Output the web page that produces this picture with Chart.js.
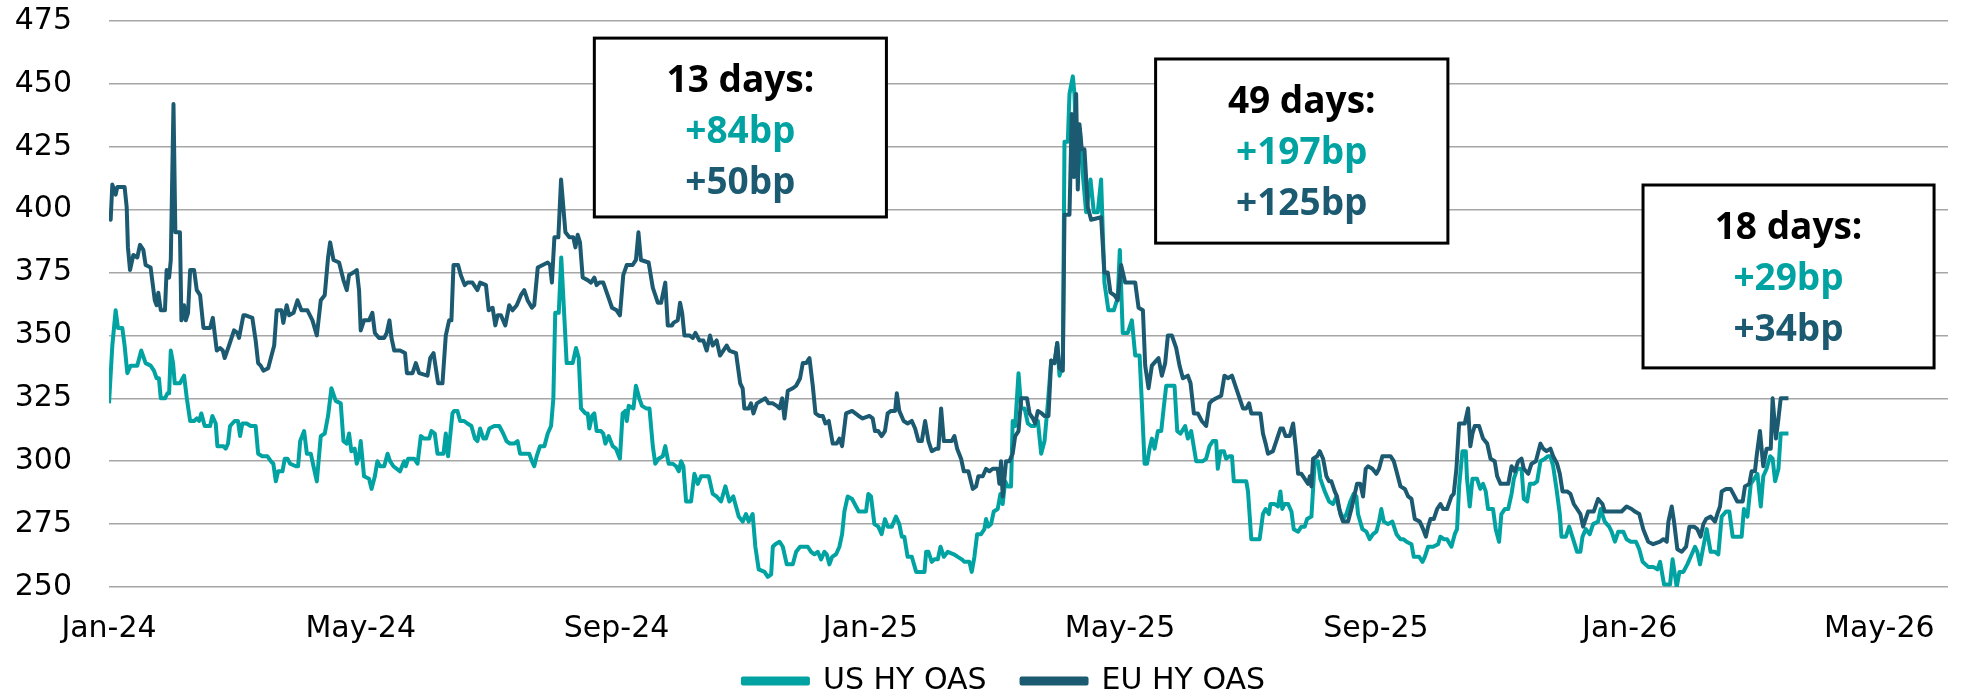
<!DOCTYPE html>
<html>
<head>
<meta charset="utf-8">
<script src="https://cdn.jsdelivr.net/npm/chart.js@4.4.1/dist/chart.umd.min.js"></script>
<style>
  html, body { margin: 0; padding: 0; background: #fff; }
</style>
</head>
<body>
<canvas id="spreadChart" width="1964" height="696"></canvas>
<script>
// x values are days since 1 Jan 2024
const usDays = [
  0, 1.6, 3.2, 4.3, 6.4, 7.5, 8.8, 10.4, 13.6, 15.5,
  17.6, 20, 21.6, 22.9, 24, 24.9, 26.9, 28.1, 28.9, 29.7,
  30.8, 31.6, 34.1, 36.1, 37.4, 39, 40.9, 42.2, 43.3, 44.4,
  46, 48.6, 49.7, 51.3, 52.1, 55, 56.1, 57.2, 58.2, 59.3,
  60.4, 62, 63, 64.1, 66.2, 68.1, 70.5, 71.7, 73.7, 76.1,
  77.8, 79, 80.2, 81.3, 83.4, 84.5, 85.8, 87.1, 89.8, 90.9,
  91.9, 93.8, 95.1, 97, 98.3, 99.9, 101.8, 103.7, 105.3, 106.9,
  109, 111.4, 112.7, 114.3, 115.4, 116.5, 118.1, 119.1, 120.2, 121,
  122.6, 125, 126.2, 127.8, 129, 130.3, 132.3, 133.9, 135.1, 136.7,
  139.9, 141.9, 142.7, 143.8, 146.7, 148.3, 149.9, 151.5, 153.9, 155,
  156.6, 157.9, 160.8, 161.9, 163, 165.1, 165.9, 167.5, 168.8, 170.7,
  172.3, 174.2, 175.9, 177.1, 178.4, 180, 181.2, 182.8, 185.2, 187.6,
  189.5, 191.1, 192.7, 194.8, 196.4, 197.6, 199.6, 202, 203.3, 204.4,
  205.6, 207.2, 209.3, 210.9, 212.5, 213.6, 214.5, 216.2, 217.4, 218.9,
  220, 222.9, 224.5, 225.8, 226.9, 229, 230.1, 230.9, 232.2, 233.3,
  234.4, 236.5, 237.6, 238.6, 240.2, 242.1, 243.7, 245.6, 246.9, 248.2,
  248.9, 249.8, 252.1, 253.3, 254.9, 256.2, 258.2, 259.8, 261.4, 262.6,
  264.2, 266.2, 267.4, 269, 271, 272.6, 273.9, 275, 276.1, 277.4,
  279.8, 281.4, 283, 284.6, 287, 288.3, 290.2, 292.1, 294.2, 296.3,
  298.2, 300.1, 301.4, 302.7, 304.6, 306.2, 307.5, 309.4, 310.7, 312.3,
  315.1, 316.7, 318.3, 319.1, 320.3, 322.3, 323.9, 325.8, 328.7, 330.3,
  332.2, 335.9, 337.5, 339.1, 340.7, 342.3, 343.9, 345, 346.3, 347.6,
  349.5, 351.1, 352.4, 353.5, 355.1, 357.2, 359.1, 360.4, 362.3, 363.9,
  365, 366.3, 367.9, 369.8, 371.4, 373, 374.3, 376.3, 378.3, 379.9,
  381.1, 382.3, 383.9, 385.9, 388, 392, 392.8, 393.9, 395.5, 396.8,
  398.4, 399.7, 401.3, 403.2, 406.1, 408, 409.9, 411.2, 413.6, 414.7,
  416, 417.3, 419.2, 420.8, 421.6, 422.7, 424, 425.3, 427.2, 428.5,
  429.6, 430.8, 432, 433.6, 434.4, 435.6, 437.2, 438.5, 440.1, 441.7,
  443.3, 444.9, 446.5, 448.1, 449.7, 451.3, 452.9, 454.5, 455.8, 456.9,
  458.5, 459.3, 460.9, 461.7, 463.3, 464.1, 465.4, 466.7, 468.1, 469.7,
  471.8, 473.4, 475.3, 476.9, 478.5, 480.4, 483, 484.9, 485.9, 487.3,
  489.7, 491.7, 493.3, 495.4, 496.5, 497.8, 499, 500.2, 501.3, 502.6,
  504.2, 505.8, 507.1, 508.2, 512.2, 513.5, 515.1, 517.3, 518.6, 520.2,
  522.6, 525.8, 527.4, 529, 530.6, 532.2, 533, 534.3, 535.9, 537,
  538.6, 539.8, 540.7, 545.1, 546.7, 547.5, 549.1, 553.1, 554.7, 556,
  557.6, 558.3, 560.3, 561.9, 563.1, 564, 565.1, 566.8, 568.4, 569.5,
  571.6, 573.2, 574.8, 575.9, 578, 579.6, 581.2, 582.3, 584.4, 586.5,
  588.4, 590, 591.3, 593.2, 594.8, 596.7, 598.3, 599.6, 600.4, 602.5,
  604.4, 606, 607.6, 609.2, 610.5, 611.6, 612.8, 614.8, 616.9, 618.9,
  620.8, 622.1, 623.7, 626.1, 627.2, 629.8, 631.4, 632.5, 634.1, 636.5,
  638.9, 640, 641.6, 643.2, 645.3, 646.9, 648, 649, 650.6, 652.2,
  652.8, 654.1, 655.4, 657.6, 659.2, 660.5, 661.8, 662.9, 665.3, 666.6,
  668.2, 669.3, 671, 672.6, 674.2, 675.3, 676.9, 679, 680.1, 681.7,
  683, 684.9, 686.5, 688.1, 690.2, 691.8, 692.9, 694.2, 695.8, 697.4,
  698.2, 700.3, 701.9, 703.8, 705.7, 707.3, 708.3, 709.9, 711.8, 713.4,
  715.8, 717, 719, 721.1, 722.3, 723.9, 725.5, 727.9, 729.5, 731.5,
  734, 735.6, 737.2, 739.9, 742.3, 744.3, 745.6, 747.5, 750.4, 751.6,
  753.6, 754.9, 756.8, 758.7, 760.3, 762.4, 763.5, 764.8, 766.4, 768,
  769.9, 772, 773.6, 775.2, 777.3, 778.9, 780.5, 782.7, 784.8, 785.9,
  787.6, 789.2, 790.8, 792.4, 794, 795.2, 796.8, 798.5, 799.7, 800.9,
  802.5, 803.6, 807.3
];
const usValues = [
  323, 346, 360, 353, 353, 346, 335, 338, 338, 344,
  339, 338, 336, 333, 333, 325, 325, 327, 327, 344,
  339, 331, 331, 334, 325, 316, 316, 317, 316, 319,
  314, 314, 318, 315, 306, 306, 305, 307, 314, 315,
  316, 316, 310, 315, 315, 314, 314, 303, 302, 302,
  300, 299, 292, 296, 296, 301, 301, 299, 298, 298,
  308, 312, 303, 303, 298, 292, 310, 311, 318, 329,
  324, 323, 308, 307, 311, 304, 305, 299, 302, 308,
  294, 293, 289, 294, 300, 298, 298, 303, 300, 298,
  296, 300, 298, 301, 301, 299, 310, 309, 309, 312,
  311, 303, 303, 311, 302, 319, 320, 320, 316, 316,
  315, 314, 309, 308, 313, 309, 309, 313, 314, 314,
  311, 308, 307, 307, 308, 303, 303, 303, 300, 298,
  302, 306, 306, 311, 314, 325, 359, 359, 381, 357,
  339, 339, 345, 341, 321, 319, 319, 313, 318, 319,
  312, 312, 311, 307, 310, 306, 305, 301, 319, 320,
  316, 322, 321, 330, 325, 322, 321, 321, 306, 299,
  301, 302, 306, 299, 299, 298, 296, 300, 298, 284,
  284, 295, 291, 294, 294, 294, 287, 286, 284, 290,
  284, 286, 282, 278, 276, 279, 276, 279, 266, 257,
  256, 254, 255, 266, 267, 268, 266, 259, 259, 264,
  266, 266, 264, 263, 264, 261, 264, 263, 259, 262,
  263, 266, 271, 280, 286, 285, 282, 280, 280, 280,
  287, 286, 275, 274, 271, 277, 274, 274, 278, 275,
  270, 270, 262, 262, 256, 256, 264, 264, 260, 261,
  261, 266, 262, 264, 263, 262, 261, 260, 260, 256,
  262, 271, 271, 273, 277, 274, 275, 280, 281, 287,
  283, 292, 290, 290, 316, 314, 335, 321, 321, 315,
  314, 314, 316, 303, 308, 323, 340, 339, 347, 334,
  339, 427, 427, 446, 453, 446, 413, 432, 414, 399,
  412, 399, 399, 412, 371, 360, 360, 365, 384, 351,
  351, 356, 342, 342, 323, 299, 299, 305, 309, 305,
  312, 312, 322, 330, 330, 312, 311, 314, 309, 312,
  300, 300, 301, 306, 308, 308, 297, 304, 304, 301,
  302, 302, 292, 292, 292, 288, 269, 269, 279, 281,
  279, 283, 283, 282, 288, 281, 283, 283, 280, 273,
  272, 274, 274, 277, 278, 300, 300, 293, 288, 284,
  283, 286, 281, 277, 279, 284, 287, 286, 279, 273,
  272, 269, 271, 272, 276, 281, 276, 275, 276, 271,
  269, 269, 268, 267, 262, 262, 260, 262, 266, 266,
  267, 270, 269, 269, 266, 271, 273, 290, 304, 304,
  293, 282, 293, 293, 289, 291, 288, 281, 281, 273,
  268, 279, 281, 281, 287, 293, 297, 297, 285, 284,
  291, 291, 292, 300, 301, 302, 302, 298, 289, 279,
  270, 270, 274, 269, 264, 264, 270, 273, 271, 275,
  276, 281, 276, 274, 272, 268, 272, 272, 269, 268,
  268, 265, 260, 258, 258, 257, 260, 251, 251, 261,
  250, 256, 256, 259, 262, 266, 264, 259, 266, 273,
  264, 264, 263, 278, 280, 280, 270, 270, 270, 281,
  278, 291, 293, 295, 282, 294, 297, 302, 301, 292,
  297, 311, 311
];

const euDays = [
  0, 0.8, 1.6, 3.2, 4, 7.5, 8.5, 9.1, 10.1, 11.7,
  13.6, 14.9, 16.5, 17.6, 20, 22, 22.9, 23.7, 24.9, 26.9,
  27.7, 28.9, 29.7, 31, 31.9, 34.1, 34.8, 36.1, 36.9, 38,
  39, 40.9, 42.2, 43.8, 45.4, 48.6, 49.9, 51.8, 53.4, 54.7,
  55.6, 57.7, 60.1, 61.7, 62.5, 64.6, 65.7, 68.9, 70.5, 71.7,
  72.9, 74.2, 76.5, 77.8, 79.4, 80.6, 82.9, 83.8, 85.4, 86.6,
  88.7, 90.6, 92.5, 95.4, 97.8, 99.9, 101.8, 103.7, 105.3, 106.3,
  107.9, 110.6, 112.7, 114.3, 115.4, 117.5, 119.1, 120.2, 121, 122.6,
  125, 126.6, 127.8, 129.8, 132.3, 133.5, 134.8, 135.8, 137.1, 139.9,
  142.3, 143.2, 145.9, 147.5, 149.1, 153.1, 154.4, 156, 157.1, 158.2,
  160.3, 161.9, 163.5, 164.6, 165.6, 167.8, 169.1, 171, 172.3, 174.7,
  177.1, 178.4, 181.2, 182.5, 184.4, 185.7, 186.8, 188.4, 190.5, 192.4,
  194, 196, 198, 199.6, 201.2, 203.3, 204.4, 206.1, 208.5, 210.9,
  212, 212.9, 214.1, 216, 217.3, 219.4, 221.3, 223.2, 224.2, 225.3,
  226.4, 227.7, 230.1, 231.7, 233.3, 234.4, 235.7, 237.6, 239.7, 241.8,
  244, 245.6, 247.2, 248.9, 251.7, 253.3, 254.5, 255.7, 259.4, 261.4,
  263.8, 265.4, 267.4, 268.6, 270.7, 271.3, 273.4, 274.5, 275.5, 276.6,
  279, 280.6, 281.9, 283.8, 285.7, 287.3, 288.9, 290.2, 292.1, 293.7,
  295.3, 296.9, 298.2, 301.4, 303.4, 304.6, 305.4, 307.5, 308.6, 309.8,
  311.4, 313.5, 315.5, 317.1, 319.1, 321, 322.3, 323.6, 324.7, 326.3,
  328.7, 330.3, 332.2, 333.5, 335.1, 336.7, 338.3, 339.6, 341.5, 343.1,
  344.4, 346, 347.9, 349.8, 351.1, 352.4, 354.3, 357.2, 360.4, 362.3,
  365.5, 367.1, 368.2, 369.8, 371.4, 373, 374.3, 375.9, 377.9, 378.7,
  379.9, 382, 383.9, 385.9, 387.5, 389.1, 390.7, 392.3, 393.9, 395.5,
  397.6, 398.7, 400, 401.3, 402.9, 405.1, 406.4, 407.7, 409.6, 410.9,
  413.1, 415.2, 416.8, 417.9, 420, 421.6, 423.2, 424.8, 427.2, 428,
  428.8, 429.6, 431.2, 432.8, 434.4, 435.6, 437.2, 438.5, 441.3, 442.5,
  444.1, 445.2, 446.5, 448.4, 449.7, 451.6, 452.9, 454.5, 455.8, 456.9,
  458.5, 459.3, 461.7, 462.8, 463.8, 464.9, 465.7, 466.5, 467.6, 468.9,
  470.5, 472.1, 476.9, 478.5, 480.1, 481.4, 483.3, 484.9, 486.5, 488.5,
  490.5, 493.3, 494.9, 497, 498.1, 499.7, 501.3, 503.4, 504.5, 506.1,
  507.7, 509, 510.9, 513, 514.6, 516.2, 518.6, 519.9, 521.5, 523.4,
  525.3, 527.4, 529, 530.1, 532.2, 534.6, 536.2, 537.8, 539.8, 545.1,
  546.7, 548, 549.1, 551.2, 552.3, 553.5, 554.7, 556, 557.1, 559.5,
  561.5, 563.1, 564.3, 565.6, 567.6, 569.2, 570.4, 571.6, 573.2, 574.8,
  576.4, 577.2, 578, 578.8, 580.7, 582, 583.6, 585.2, 586.5, 587.6,
  589.2, 590.3, 591.9, 593.2, 595.6, 597.2, 598.3, 599.9, 601.5, 602.8,
  604.1, 605.2, 607.3, 609.2, 610.5, 612.1, 614, 616, 617.6, 618.9,
  620.8, 622.9, 624.5, 626.1, 627.7, 630.1, 631.7, 633, 634.1, 635.2,
  636.8, 638.4, 640, 641.3, 643.2, 645.3, 646.4, 647.7, 649, 651.7,
  653.3, 654.4, 655.4, 656.5, 658.6, 660.5, 662.5, 664.1, 666.1, 667.3,
  668.9, 671, 672.6, 674.2, 675.8, 677.4, 679, 680.1, 682.2, 683.8,
  685.9, 688.1, 689.4, 691, 692.9, 694.2, 696.1, 697.4, 698.7, 700.9,
  702.5, 704.1, 705.7, 707.3, 708.6, 711, 713.7, 715.8, 717.9, 719,
  721.1, 723.1, 727.1, 729.5, 731.9, 733.5, 735.6, 737.5, 739.9, 742.3,
  745.6, 747.2, 748.8, 749.6, 751.2, 752.3, 753.9, 756, 758.1, 759.7,
  761.9, 763.5, 765.1, 766.4, 767.7, 769.9, 772, 773.1, 774.4, 775.2,
  777.3, 779.5, 780.8, 782.7, 785.3, 786.4, 788.5, 789.6, 791.2, 792,
  793.6, 795.2, 796.8, 798.8, 799.7, 801.3, 802.5, 803.6, 807.3
];
const euValues = [
  399, 396, 410, 406, 409, 409, 401, 385, 376, 382,
  381, 386, 384, 378, 377, 364, 362, 367, 360, 360,
  376, 373, 380, 442, 391, 391, 356, 362, 356, 359,
  376, 376, 368, 366, 353, 353, 357, 344, 345, 344,
  341, 346, 352, 351, 349, 358, 358, 357, 348, 339,
  338, 336, 337, 341, 346, 360, 360, 355, 362, 358,
  359, 364, 360, 360, 356, 350, 364, 366, 381, 387,
  380, 379, 372, 368, 374, 375, 376, 368, 352, 356,
  356, 359, 351, 349, 349, 351, 356, 349, 344, 344,
  343, 335, 335, 339, 335, 334, 341, 343, 337, 331,
  331, 350, 356, 356, 378, 378, 374, 370, 371, 371,
  368, 371, 370, 360, 361, 354, 358, 358, 354, 362,
  360, 362, 366, 368, 364, 361, 362, 377, 378, 379,
  378, 371, 389, 389, 412, 391, 389, 389, 385, 390,
  387, 373, 372, 371, 373, 370, 371, 371, 366, 361,
  360, 358, 374, 378, 378, 380, 391, 380, 379, 369,
  363, 363, 371, 354, 354, 355, 356, 363, 359, 350,
  350, 349, 351, 348, 348, 344, 350, 346, 348, 342,
  344, 346, 344, 343, 331, 329, 321, 321, 323, 319,
  323, 324, 325, 323, 323, 322, 321, 325, 317, 328,
  329, 330, 333, 339, 339, 341, 330, 319, 318, 318,
  315, 316, 307, 307, 309, 306, 319, 320, 318, 317,
  318, 317, 312, 312, 310, 312, 319, 320, 320, 327,
  320, 316, 315, 316, 313, 308, 308, 316, 308, 304,
  305, 305, 321, 308, 308, 308, 310, 305, 301, 296,
  296, 289, 290, 294, 294, 297, 296, 297, 297, 291,
  300, 286, 300, 300, 303, 310, 312, 325, 325, 319,
  317, 315, 320, 319, 318, 318, 340, 339, 347, 337,
  336, 398, 398, 438, 413, 446, 408, 434, 424, 424,
  401, 396, 397, 375, 375, 367, 366, 364, 378, 371,
  371, 371, 361, 360, 338, 329, 338, 340, 341, 334,
  339, 350, 350, 345, 338, 333, 334, 331, 319, 319,
  316, 314, 323, 324, 325, 326, 334, 333, 334, 321,
  321, 323, 319, 319, 319, 319, 311, 307, 303, 304,
  309, 313, 313, 310, 310, 315, 306, 295, 295, 293,
  291, 294, 290, 301, 302, 304, 301, 294, 292, 292,
  288, 286, 279, 276, 276, 281, 285, 291, 291, 286,
  297, 298, 297, 295, 297, 302, 302, 302, 300, 296,
  290, 289, 286, 285, 277, 276, 273, 270, 274, 277,
  277, 281, 283, 281, 281, 286, 287, 297, 315, 315,
  321, 306, 311, 314, 314, 309, 307, 301, 300, 294,
  291, 291, 291, 298, 296, 300, 301, 297, 295, 299,
  300, 307, 305, 304, 305, 302, 299, 295, 288, 288,
  287, 283, 281, 279, 274, 280, 280, 285, 283, 280,
  280, 280, 280, 282, 281, 280, 279, 273, 268, 267,
  268, 269, 268, 276, 282, 276, 265, 264, 266, 274,
  274, 273, 270, 275, 277, 278, 276, 279, 282, 288,
  289, 289, 287, 284, 284, 290, 291, 296, 296, 302,
  312, 298, 305, 305, 325, 309, 317, 325, 325
];

const seriesNames = ['US HY OAS', 'EU HY OAS'];
const tickDays = [0, 121, 244, 366, 486, 609, 731, 851];
const tickLabels = ['Jan-24', 'May-24', 'Sep-24', 'Jan-25', 'May-25', 'Sep-25', 'Jan-26', 'May-26'];

// annotation texts
const boxTitles = ['13 days:', '49 days:', '18 days:'];
const usMoves = ['+84bp', '+197bp', '+29bp'];
const euMoves = ['+50bp', '+125bp', '+34bp'];

const usColor = '#00a3a1';
const euColor = '#1b5a70';

// where the boxes sit, in axis units
const boxPlaces = [
  { x0: 233.3, x1: 373.7, yTop: 468.2, yBottom: 397.1 },
  { x0: 503.1, x1: 643.6, yTop: 459.9, yBottom: 386.7 },
  { x0: 737.4, x1: 877.3, yTop: 409.8, yBottom: 337.1 }
];

const moveBoxes = {
  id: 'moveBoxes',
  afterDatasetsDraw(chart) {
    const ctx = chart.ctx;
    const xs = chart.scales.x, ys = chart.scales.y;
    boxPlaces.forEach((b, i) => {
      const left = xs.getPixelForValue(b.x0);
      const right = xs.getPixelForValue(b.x1);
      const top = ys.getPixelForValue(b.yTop);
      const bottom = ys.getPixelForValue(b.yBottom);
      ctx.save();
      ctx.fillStyle = '#ffffff';
      ctx.fillRect(left, top, right - left, bottom - top);
      ctx.lineWidth = 3;
      ctx.strokeStyle = '#000000';
      ctx.strokeRect(left, top, right - left, bottom - top);
      const cx = (left + right) / 2;
      ctx.font = 'bold 37px "Open Sans"';
      ctx.textAlign = 'center';
      ctx.textBaseline = 'alphabetic';
      ctx.fillStyle = '#000000';
      ctx.fillText(boxTitles[i], cx, top + 54);
      ctx.fillStyle = usColor;
      ctx.fillText(usMoves[i], cx, top + 105);
      ctx.fillStyle = euColor;
      ctx.fillText(euMoves[i], cx, top + 156);
      ctx.restore();
    });
  }
};

const axisFont = { family: '"DejaVu Sans"', size: 30 };
const noLabelClip = function() { return undefined; };

const ctx = document.getElementById('spreadChart').getContext('2d');
const spreadChart = new Chart(ctx, {
  type: 'line',
  data: {
    datasets: [
      {
        label: seriesNames[0],
        data: usDays.map((d, i) => ({ x: d, y: usValues[i] })),
        borderColor: usColor,
        backgroundColor: usColor,
        borderWidth: 4,
        pointRadius: 0,
        tension: 0,
        borderJoinStyle: 'round',
        order: 1
      },
      {
        label: seriesNames[1],
        data: euDays.map((d, i) => ({ x: d, y: euValues[i] })),
        borderColor: euColor,
        backgroundColor: euColor,
        borderWidth: 4,
        pointRadius: 0,
        tension: 0,
        borderJoinStyle: 'round',
        order: 0
      }
    ]
  },
  options: {
    responsive: false,
    devicePixelRatio: 1,
    animation: false,
    layout: { padding: { top: 21, right: 16, left: 60, bottom: -10 } },
    scales: {
      x: {
        type: 'linear',
        min: 0,
        max: 884,
        grid: { display: false },
        border: { display: false },
        afterBuildTicks: function(scale) {
          scale.ticks = tickDays.map(v => ({ value: v }));
        },
        afterFit: function(scale) {
          scale.height = 44;
          // let the month labels run below the short axis box
          scale._computeLabelArea = noLabelClip;
        },
        ticks: {
          autoSkip: false,
          maxRotation: 0,
          padding: 16,
          color: '#000',
          font: axisFont,
          callback: function(value) {
            const k = tickDays.indexOf(value);
            return k >= 0 ? tickLabels[k] : '';
          }
        }
      },
      y: {
        min: 250,
        max: 475,
        grid: { color: '#a6a6a6', lineWidth: 1.5, drawTicks: false },
        border: { display: false },
        afterFit: function(scale) {
          scale.width = 49;
          scale.paddingTop = 0;
          scale.paddingBottom = 0;
          scale._computeLabelArea = noLabelClip;
        },
        ticks: {
          stepSize: 25,
          padding: 37,
          color: '#000',
          font: axisFont
        }
      }
    },
    plugins: {
      legend: {
        position: 'bottom',
        labels: {
          boxWidth: 65,
          boxHeight: 5,
          padding: 35,
          color: '#000',
          font: { family: '"DejaVu Sans"', size: 30 },
          sort: (a, b) => a.datasetIndex - b.datasetIndex
        }
      },
      tooltip: { enabled: false }
    }
  },
  plugins: [moveBoxes]
});
</script>
</body>
</html>
